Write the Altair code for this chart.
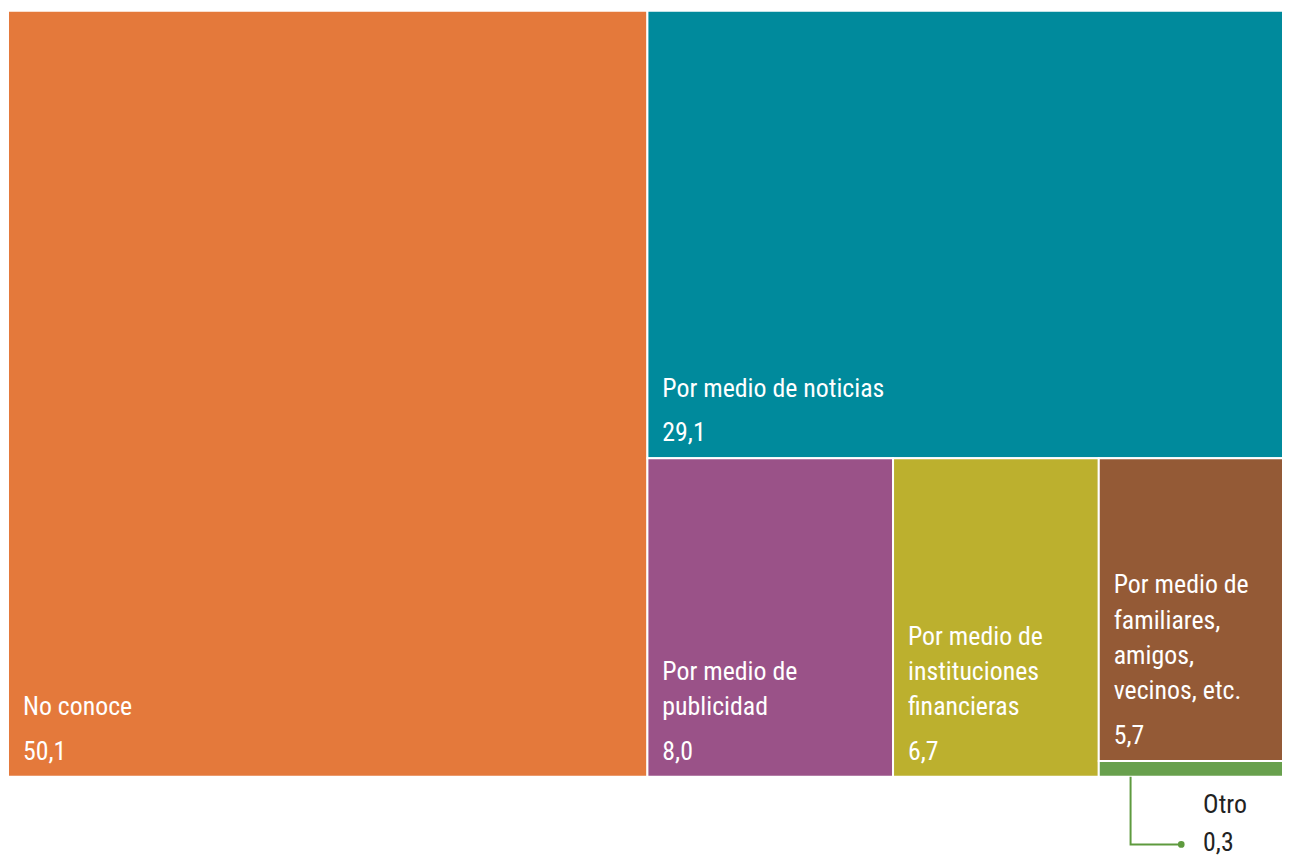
import altair as alt
import pandas as pd

# ---- data ----
categories = ["No conoce", "Por medio de noticias", "Por medio de publicidad",
              "Por medio de instituciones financieras",
              "Por medio de familiares, amigos, vecinos, etc.", "Otro"]
label_lines = [["No conoce"], ["Por medio de noticias"], ["Por medio de", "publicidad"],
               ["Por medio de", "instituciones", "financieras"],
               ["Por medio de", "familiares,", "amigos,", "vecinos, etc."], ["Otro"]]
values = [50.1, 29.1, 8.0, 6.7, 5.7, 0.3]
colors = ["#E4793B", "#008A9C", "#9A5288", "#BCB02E", "#945A36", "#68A04D"]

W, H = 1283, 771          # treemap extent (layout units = pixels)
TOTAL_W, TOTAL_H = 1283, 851
FONT = ("Roboto Condensed, Noto Sans Condensed, Open Sans Condensed, "
        "Liberation Sans Narrow, DejaVu Sans Condensed, sans-serif")
FS = 26


def worst(row, short):
    s = sum(row)
    return max(max(short * short * r / (s * s), s * s / (short * short * r)) for r in row)


def squarify(vals, x, y, w, h):
    scale = w * h / sum(vals)
    areas = [v * scale for v in vals]
    rects = []
    i, n = 0, len(areas)
    while i < n:
        short = min(w, h)
        row = [areas[i]]
        j = i + 1
        while j < n and worst(row + [areas[j]], short) <= worst(row, short):
            row.append(areas[j])
            j += 1
        s = sum(row)
        if w >= h:
            cw = s / h
            yy = y
            for a in row:
                rh = a / cw
                rects.append((x, yy, x + cw, yy + rh))
                yy += rh
            x += cw
            w -= cw
        else:
            rh = s / w
            xx = x
            for a in row:
                rw = a / rh
                rects.append((xx, y, xx + rw, y + rh))
                xx += rw
            y += rh
            h -= rh
        i = j
    return rects


rects = squarify(values, 0, 0, W, H)

rect_df = pd.DataFrame({
    "cat": categories,
    "x0": [r[0] for r in rects], "y0": [r[1] for r in rects],
    "x1": [r[2] for r in rects], "y1": [r[3] for r in rects],
    "val": values,
})

# labels inside the rectangles (all except the tiny "Otro")
name_rows, val_rows = [], []
for cat, lines, v, r in zip(categories, label_lines, values, rects):
    if cat == "Otro":
        continue
    vb = r[3] - 17
    val_rows.append({"x": r[0] + 15, "y": vb, "t": f"{v:.1f}".replace(".", ",")})
    n = len(lines)
    for k, ln in enumerate(lines):
        name_rows.append({"x": r[0] + 15, "y": vb - 45 - (n - 1 - k) * 35.5, "t": ln})
name_df = pd.DataFrame(name_rows)
val_df = pd.DataFrame(val_rows)

# callout for "Otro"
ro = rects[-1]
cx = ro[0] + 32
cy = ro[3] + 68
call_df = pd.DataFrame({"x": [cx, cx, cx + 51], "y": [ro[3], cy, cy], "o": [0, 1, 2]})
dot_df = pd.DataFrame({"x": [cx + 51], "y": [cy]})
otro_df = pd.DataFrame({"x": [cx + 73, cx + 73], "y": [cy - 32, cy + 7],
                        "t": [label_lines[-1][0], f"{values[-1]:.1f}".replace(".", ",")]})

xs = alt.Scale(domain=[0, TOTAL_W], nice=False, zero=False)
ys = alt.Scale(domain=[0, TOTAL_H], nice=False, zero=False, reverse=True)
ax = None

base_rect = alt.Chart(rect_df).mark_rect(stroke="white", strokeWidth=2).encode(
    x=alt.X("x0:Q", scale=xs, axis=ax), x2="x1:Q",
    y=alt.Y("y0:Q", scale=ys, axis=ax), y2="y1:Q",
    color=alt.Color("cat:N", scale=alt.Scale(domain=categories, range=colors), legend=None),
)

names = alt.Chart(name_df).mark_text(align="left", baseline="alphabetic", font=FONT,
                                     fontSize=FS, color="white").encode(
    x=alt.X("x:Q", scale=xs, axis=ax), y=alt.Y("y:Q", scale=ys, axis=ax), text="t:N")

vals_t = alt.Chart(val_df).mark_text(align="left", baseline="alphabetic", font=FONT,
                                     fontSize=FS, color="white").encode(
    x=alt.X("x:Q", scale=xs, axis=ax), y=alt.Y("y:Q", scale=ys, axis=ax), text="t:N")

callout = alt.Chart(call_df).mark_line(color="#5E9A3E", strokeWidth=2).encode(
    x=alt.X("x:Q", scale=xs, axis=ax), y=alt.Y("y:Q", scale=ys, axis=ax), order="o:Q")

dot = alt.Chart(dot_df).mark_point(filled=True, color="#5E9A3E", size=45, opacity=1).encode(
    x=alt.X("x:Q", scale=xs, axis=ax), y=alt.Y("y:Q", scale=ys, axis=ax))

otro = alt.Chart(otro_df).mark_text(align="left", baseline="alphabetic", font=FONT,
                                    fontSize=FS, color="#222222").encode(
    x=alt.X("x:Q", scale=xs, axis=ax), y=alt.Y("y:Q", scale=ys, axis=ax), text="t:N")

chart = alt.layer(base_rect, names, vals_t, callout, dot, otro).properties(
    width=TOTAL_W, height=TOTAL_H,
    autosize=alt.AutoSizeParams(type="none"),
    padding=0,
).configure_view(stroke=None)

chart.save("out.html", embed_options={"renderer": "svg", "actions": False})
